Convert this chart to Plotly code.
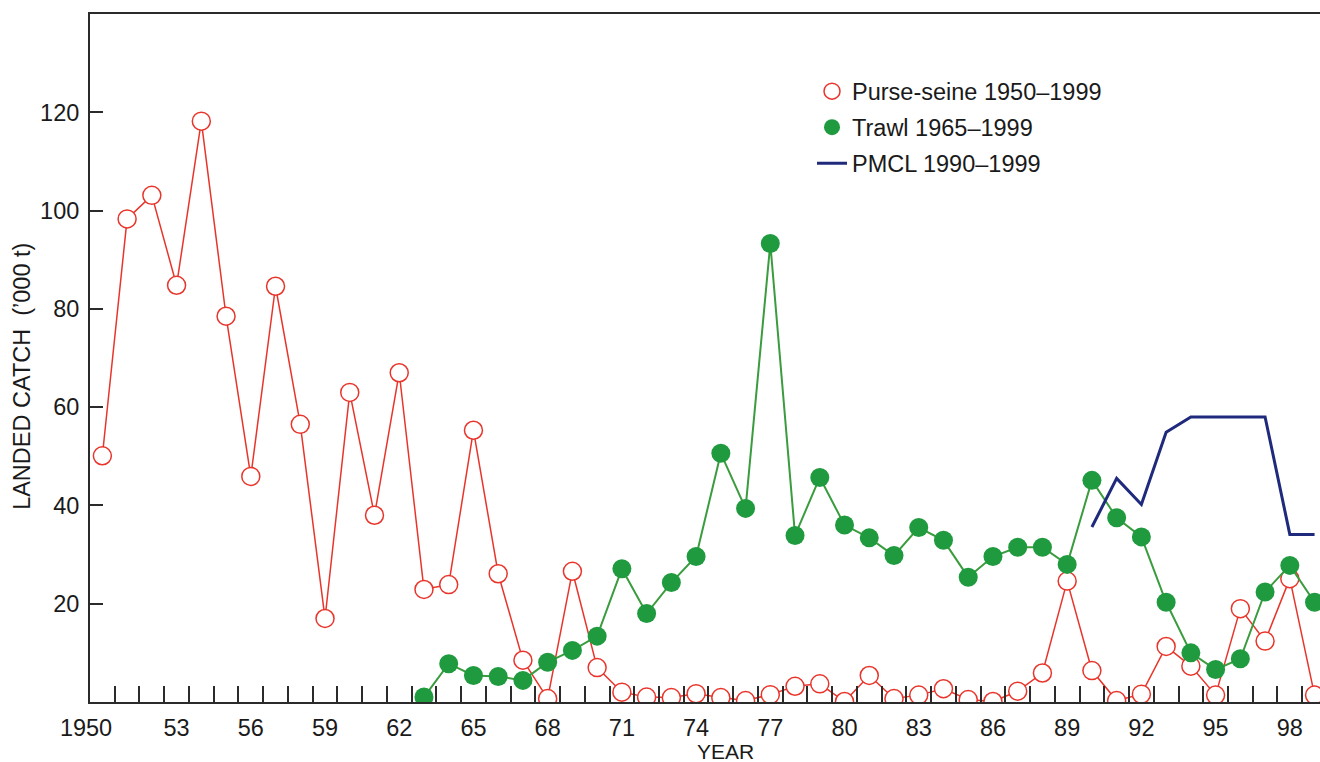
import plotly.graph_objects as go

# Landed catch ('000 t) by fishing method
purse_years = list(range(1950, 2000))
purse_seine = [50.1, 98.3, 103.1, 84.8, 118.2, 78.5, 45.9, 84.6, 56.5, 17.0,
               63.0, 38.0, 67.0, 22.9, 23.9, 55.3, 26.1, 8.5, 0.7, 26.6,
               7.0, 2.0, 1.0, 0.9, 1.7, 0.9, 0.3, 1.5, 3.2, 3.7,
               0.1, 5.4, 0.7, 1.4, 2.7, 0.5, 0.1, 2.2, 5.9, 24.6,
               6.4, 0.3, 1.6, 11.3, 7.3, 1.4, 19.0, 12.4, 25.1, 1.4]

trawl_years = list(range(1963, 2000))
trawl = [1.0, 7.8, 5.4, 5.2, 4.4, 8.1, 10.5,
         13.4, 27.1, 18.0, 24.3, 29.6, 50.6, 39.4, 93.3, 33.9, 45.7,
         36.0, 33.4, 29.8, 35.5, 32.9, 25.4, 29.6, 31.5, 31.5, 28.0,
         45.1, 37.5, 33.6, 20.3, 10.0, 6.6, 8.8, 22.4, 27.8, 20.3]

pmcl_years = list(range(1990, 2000))
pmcl = [35.6, 45.5, 40.2, 54.9, 58.0, 58.0, 58.0, 58.0, 34.1, 34.1]

tick_years = list(range(1950, 1999, 3))
tick_labels = ["1950\u00a0\u00a0\u00a0\u00a0\u00a0"] + [str(y)[2:] for y in tick_years[1:]]
y_ticks = [20, 40, 60, 80, 100, 120]

RED = "#e8352b"
GREEN = "#1f9a3e"
GREEN_LINE = "#3a9c3e"
BLUE = "#1f2a7c"
AXIS = "#2b2b2b"
FONT = "Liberation Sans, Arial, sans-serif"
FS = 23.5

fig = go.Figure()

# Purse-seine: connecting line, then open circles on top
fig.add_trace(go.Scatter(x=purse_years, y=purse_seine, mode="lines",
                         line=dict(color=RED, width=1.5),
                         showlegend=False, hoverinfo="skip"))
fig.add_trace(go.Scatter(x=purse_years, y=purse_seine, mode="markers",
                         name="Purse-seine 1950\u20131999", legendgroup="ps",
                         marker=dict(symbol="circle", size=18, color="white",
                                     line=dict(color=RED, width=1.5))))

# Trawl: connecting line, then filled circles
fig.add_trace(go.Scatter(x=trawl_years, y=trawl, mode="lines",
                         line=dict(color=GREEN_LINE, width=2),
                         showlegend=False, hoverinfo="skip"))
fig.add_trace(go.Scatter(x=trawl_years, y=trawl, mode="markers",
                         name="Trawl 1965\u20131999", legendgroup="tr",
                         marker=dict(symbol="circle", size=19, color=GREEN)))

# PMCL
fig.add_trace(go.Scatter(x=pmcl_years, y=pmcl, mode="lines",
                         name="PMCL 1990\u20131999", legendgroup="pm",
                         line=dict(color=BLUE, width=3)))

fig.update_layout(
    width=1320, height=762,
    margin=dict(l=90, r=0, t=14, b=60),
    paper_bgcolor="white", plot_bgcolor="white",
    font=dict(family=FONT, size=FS, color="#1a1a1a"),
    showlegend=True,
    legend=dict(x=0.587, y=0.9195, xanchor="left", yanchor="top",
                bgcolor="rgba(0,0,0,0)", traceorder="grouped",
                tracegroupgap=2.5, font=dict(size=FS)),
    xaxis=dict(range=[1949.5, 1999.22], showgrid=False, zeroline=False,
               showline=True, linecolor=AXIS, linewidth=2, mirror=True,
               tickvals=tick_years, ticktext=tick_labels, ticks="",
               ticklabelstandoff=4, tickfont=dict(size=FS),
               minor=dict(tickvals=[y + 0.5 for y in range(1950, 1999)],
                          ticks="inside", ticklen=16, tickwidth=2,
                          tickcolor=AXIS, showgrid=False)),
    yaxis=dict(range=[0, 140], showgrid=False, zeroline=False,
               showline=True, linecolor=AXIS, linewidth=2,
               tickvals=y_ticks, ticks="inside", ticklen=13, tickwidth=2,
               tickcolor=AXIS, ticklabelstandoff=4, tickfont=dict(size=FS)),
    annotations=[
        dict(text="LANDED CATCH  (\u2019000 t)", textangle=-90,
             xref="paper", yref="paper", x=-0.0553, y=0.474,
             xanchor="center", yanchor="middle", showarrow=False,
             font=dict(size=FS)),
        dict(text="YEAR", xref="paper", yref="paper",
             x=0.517, y=-0.0715, xanchor="center", yanchor="middle",
             showarrow=False, font=dict(size=21)),
    ],
)

fig.write_html("out.html")
